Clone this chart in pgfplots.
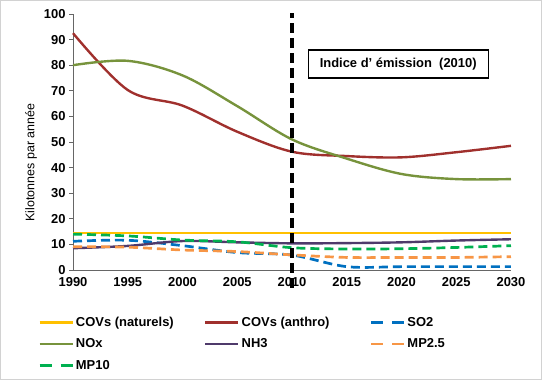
\documentclass[border=0pt]{standalone}
\usepackage{pgfplots}
\pgfplotsset{compat=1.18}
\usepackage{fontspec}
\setmainfont{Liberation Sans}
\definecolor{cnat}{HTML}{FFC000}
\definecolor{canth}{HTML}{A0302D}
\definecolor{cso}{HTML}{0070C0}
\definecolor{cnox}{HTML}{77933C}
\definecolor{cnh}{HTML}{4F3A6B}
\definecolor{cmp}{HTML}{F79646}
\definecolor{cmpten}{HTML}{00B050}
\begin{document}
\begin{tikzpicture}
\begin{axis}[
  scale only axis, width=438bp, height=256bp,
  xmin=1990, xmax=2030, ymin=0, ymax=100,
  xtick={1990,1995,...,2030}, ytick={0,10,...,100},
  axis x line*=bottom, axis y line*=left,
  axis line style={draw=gray!80!black, line width=0.8pt},
  tick align=outside, major tick length=4bp,
  ytick style={draw=gray!80!black, line width=0.8pt},
  xtick style={draw=none},
  /pgf/number format/assume math mode=true,
  /pgf/number format/set thousands separator={},
  tick label style={font=\bfseries\fontsize{13}{15}\selectfont},
  ylabel={Kilotonnes par année},
  ylabel style={font=\fontsize{12.5}{14}\selectfont, at={(ticklabel cs:0.42)}},
  clip=false,
  legend columns=3,
  legend cell align=left,
  legend style={at={(rel axis cs:-0.08,-0.175)}, anchor=north west, draw=none,
    font=\bfseries\fontsize{13}{15}\selectfont, /tikz/row sep=7bp, inner sep=0pt},
  legend image code/.code={\draw[#1, line width=2.8pt] (0bp,0bp) -- (33bp,0bp);},
  every axis plot/.append style={smooth, tension=0.55, line width=2.4pt},
]
\addplot[cnat] coordinates {(1990,14.4)(1995,14.4)(2000,14.4)(2005,14.4)(2010,14.4)(2015,14.4)(2020,14.4)(2025,14.4)(2030,14.4)};
\addlegendentry{\makebox[126bp][l]{COVs (naturels)}}
\addplot[canth] coordinates {(1990,92.5)(1995,70.3)(2000,64.2)(2005,54)(2010,46.2)(2015,44.5)(2020,44)(2025,46)(2030,48.5)};
\addlegendentry{\makebox[126bp][l]{COVs (anthro)}}
\addplot[cso, line width=2.7pt, dash pattern=on 9bp off 5bp, legend image post style={dash pattern=on 12bp off 9bp}] coordinates {(1990,11.2)(1995,11.6)(2000,9.5)(2005,6.8)(2010,5.8)(2015,1.3)(2020,1.3)(2025,1.3)(2030,1.3)};
\addlegendentry{\makebox[60bp][l]{SO2}}
\addplot[cnox] coordinates {(1990,80)(1995,81.7)(2000,76)(2005,64)(2010,51)(2015,43.5)(2020,37.5)(2025,35.5)(2030,35.5)};
\addlegendentry{NOx}
\addplot[cnh] coordinates {(1990,8.5)(1995,9.4)(2000,11.3)(2005,10.8)(2010,10.4)(2015,10.5)(2020,10.8)(2025,11.5)(2030,12)};
\addlegendentry{NH3}
\addplot[cmp, line width=2.7pt, dash pattern=on 9bp off 5bp, legend image post style={dash pattern=on 12bp off 9bp}] coordinates {(1990,9.1)(1995,8.9)(2000,7.8)(2005,7.2)(2010,5.9)(2015,4.9)(2020,4.9)(2025,4.9)(2030,5.2)};
\addlegendentry{MP2.5}
\addplot[cmpten, line width=2.7pt, dash pattern=on 9bp off 5bp, legend image post style={dash pattern=on 12bp off 9bp}] coordinates {(1990,14)(1995,13.3)(2000,11.7)(2005,11)(2010,8.7)(2015,8.2)(2020,8.3)(2025,8.8)(2030,9.5)};
\addlegendentry{MP10}
\addplot[black, sharp plot, line width=3.4pt, dash pattern=on 10bp off 5bp, forget plot] coordinates {(2010,-7)(2010,100.4)};
\node[draw, line width=1.3pt, fill=white, minimum width=180bp, minimum height=28bp,
  font=\bfseries\fontsize{13}{15}\selectfont] at (axis cs:2019.7,80.5) {Indice d' émission\ \ (2010)};
\draw[gray!35, line width=0.8pt] (rel axis cs:-0.1658,-0.4282) rectangle (rel axis cs:1.0699,1.0531);
\end{axis}
\end{tikzpicture}
\end{document}
